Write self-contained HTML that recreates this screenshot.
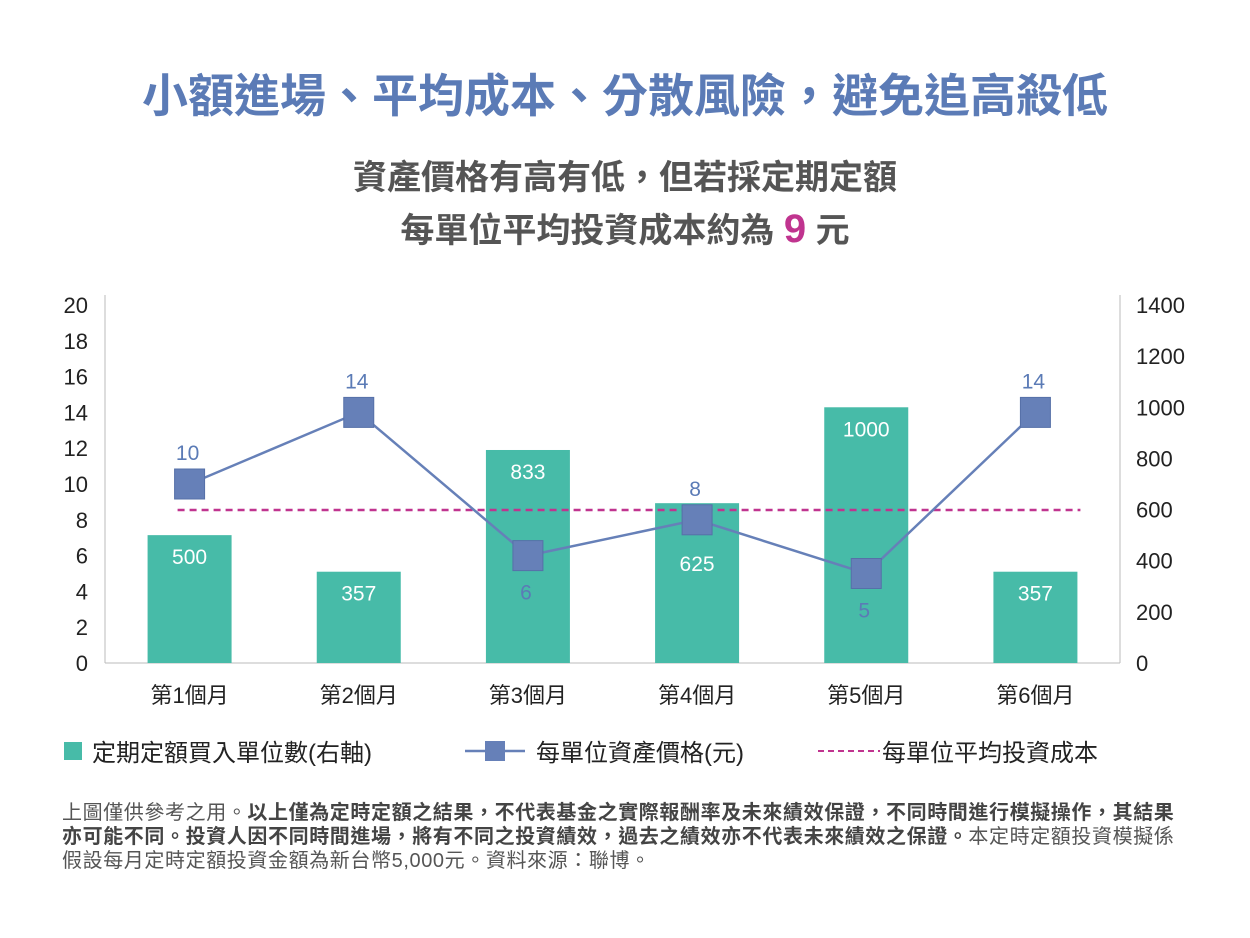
<!DOCTYPE html>
<html><head><meta charset="utf-8"><style>
body{margin:0;width:1250px;height:938px;background:#fff;font-family:"Liberation Sans","Noto Sans CJK TC",sans-serif;overflow:hidden}
.t{position:absolute;left:0;width:1250px;text-align:center;font-weight:bold;white-space:nowrap}
#foot{position:absolute;left:62px;top:801px;width:1180px;font-size:20px;line-height:24px;color:#555;letter-spacing:0.6px;white-space:nowrap}
#foot b{color:#444}
</style></head><body>
<div class="t" style="top:60px;font-size:46px;color:#5b7bb6">小額進場、平均成本、分散風險，避免追高殺低</div>
<div class="t" style="top:150px;font-size:34px;color:#555">資產價格有高有低，但若採定期定額</div>
<div class="t" style="top:203px;font-size:34px;color:#555">每單位平均投資成本約為 <span style="color:#c0348f;font-size:40px">9</span> 元</div>
<svg id="chart" width="1250" height="800" style="position:absolute;left:0;top:0"></svg>
<div id="foot">上圖僅供參考之用。<b>以上僅為定時定額之結果，不代表基金之實際報酬率及未來績效保證，不同時間進行模擬操作，其結果</b><br><b>亦可能不同。投資人因不同時間進場，將有不同之投資績效，過去之績效亦不代表未來績效之保證。</b>本定時定額投資模擬係<br>假設每月定時定額投資金額為新台幣5,000元。資料來源：聯博。</div>
<script>
const categories=["第1個月","第2個月","第3個月","第4個月","第5個月","第6個月"];
const units=[500,357,833,625,1000,357];
const prices=[10,14,6,8,5,14];
const avgCost=8.55;
const leftTicks=[0,2,4,6,8,10,12,14,16,18,20];
const rightTicks=[0,200,400,600,800,1000,1200,1400];
const priceLabelBelow=[false,false,true,false,true,false];
const NS="http://www.w3.org/2000/svg";
const svg=document.getElementById('chart');
const X0=105,X1=1120,Y0=663,Y1=305;
const yL=v=>Y0-(v/20)*(Y0-Y1);
const yR=v=>Y0-(v/1400)*(Y0-Y1);
const step=(X1-X0)/categories.length;
const xc=i=>X0+step*(i+0.5);
function mk(t,a,txt){const e=document.createElementNS(NS,t);for(const k in a)e.setAttribute(k,a[k]);if(txt!==undefined)e.textContent=txt;svg.appendChild(e);return e;}
let e;
e=mk('line',{x1:X0,y1:295,x2:X0,y2:Y0,stroke:'#bbb'});
e=mk('line',{x1:X1,y1:295,x2:X1,y2:Y0,stroke:'#bbb'});
e=mk('line',{x1:X0,y1:Y0,x2:X1,y2:Y0,stroke:'#bbb'});
leftTicks.forEach(v=>{e=mk('text',{x:88,y:yL(v)+8,'text-anchor':'end','font-size':22,fill:'#222'},v);});
rightTicks.forEach(v=>{e=mk('text',{x:1136,y:yR(v)+8,'font-size':22,fill:'#222'},v);});
categories.forEach((c,i)=>{e=mk('text',{x:xc(i),y:703,'text-anchor':'middle','font-size':22,fill:'#222'},c);});
units.forEach((v,i)=>{e=mk('rect',{x:xc(i)-42,y:yR(v),width:84,height:Y0-yR(v),fill:'#47bba8'});});
e=mk('line',{x1:xc(0)-12,y1:yL(avgCost),x2:xc(5)+45,y2:yL(avgCost),stroke:'#c0348f','stroke-width':2.5,'stroke-dasharray':'7,5'});
units.forEach((v,i)=>{const top=yR(v);const near=Math.abs(yL(prices[i])-(top+22))<25;const ly=near?top+68:top+29;
e=mk('text',{x:xc(i),y:ly,'text-anchor':'middle','font-size':21,fill:'#fff'},v);});
e=mk('polyline',{points:prices.map((p,i)=>xc(i)+','+yL(p)).join(' '),fill:'none',stroke:'#6680b8','stroke-width':2.5});
prices.forEach((p,i)=>{e=mk('rect',{x:xc(i)-15,y:yL(p)-15,width:30,height:30,fill:'#6680b8',stroke:'#5670a8'});
const ly=priceLabelBelow[i]?yL(p)+44:yL(p)-24;
e=mk('text',{x:xc(i)-2,y:ly,'text-anchor':'middle','font-size':21,fill:'#5b7bb6'},p);});
e=mk('rect',{x:64,y:742,width:18,height:18,fill:'#47bba8'});
e=mk('text',{x:92,y:761,'font-size':24,fill:'#222'},'定期定額買入單位數(右軸)');
e=mk('line',{x1:465,y1:751,x2:525,y2:751,stroke:'#6680b8','stroke-width':2.5});
e=mk('rect',{x:485,y:741,width:20,height:20,fill:'#6680b8'});
e=mk('text',{x:536,y:761,'font-size':24,fill:'#222'},'每單位資產價格(元)');
e=mk('line',{x1:818,y1:751,x2:880,y2:751,stroke:'#c0348f','stroke-width':2,'stroke-dasharray':'6,4'});
e=mk('text',{x:882,y:761,'font-size':24,fill:'#222'},'每單位平均投資成本');
</script>
</body></html>
